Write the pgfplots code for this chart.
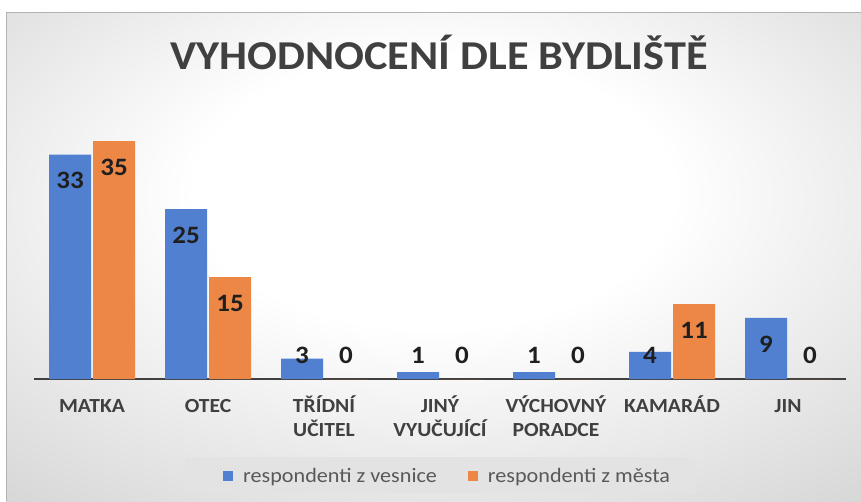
\documentclass[border=0pt]{standalone}
\usepackage{pgfplots}
\pgfplotsset{compat=1.18}
\usepackage{fontspec}
\setmainfont{Carlito}[FakeStretch=1.08]

\definecolor{barblue}{HTML}{5280D0}
\definecolor{barorange}{HTML}{EC8746}
\definecolor{txtdark}{HTML}{404040}
\definecolor{legtxt}{HTML}{595959}
\definecolor{legbg}{HTML}{E3E3E3}
\definecolor{gridc}{HTML}{A8A8A8}

\pgfdeclareradialshading{bgshade}{\pgfpoint{0bp}{8bp}}{%
  color(0bp)=(white); color(14bp)=(white); color(42bp)=(gray!36);
  color(58bp)=(gray!48); color(80bp)=(gray!48)}

\begin{document}
\begin{tikzpicture}
% background of the chart area
\fill[white] (0pt,0pt) rectangle (861pt,-501pt);
\shade[shading=bgshade] (6pt,-12pt) rectangle (861pt,-501pt);
\draw[gray!60, line width=1pt] (6pt,-501pt) -- (6pt,-12pt) -- (861pt,-12pt);
\fill[legbg] (185pt,-457pt) rectangle (695pt,-493pt);
\node[anchor=base, font=\fontsize{41}{48}\selectfont\bfseries, text=txtdark]
  at (439pt,-69pt) {VYHODNOCENÍ DLE BYDLIŠTĚ};

\begin{axis}[
  at={(34pt,-379pt)}, anchor=south west,
  x=116pt, y=6.8pt,
  xmin=-0.5, xmax=6.5, ymin=0, ymax=40,
  ybar, bar width=42pt,
  axis y line=none, axis x line*=bottom,
  x axis line style={draw=txtdark, line width=2.5pt, -},
  xtick={0,...,6}, major tick length=0pt,
  xticklabels={MATKA, OTEC, {TŘÍDNÍ\\UČITEL}, {JINÝ\\VYUČUJÍCÍ},
               {VÝCHOVNÝ\\PORADCE}, KAMARÁD, JIN},
  xticklabel style={font=\fontsize{20}{24}\selectfont\bfseries, text=txtdark,
                    align=center, anchor=north, inner sep=0pt, yshift=-16pt,
                    execute at begin node=\strut},
  ytick={5,10,...,40}, yticklabels={},
  ymajorgrids, grid style={gridc, line width=1.1pt},
  /pgf/number format/assume math mode=true,
  nodes near coords,
  visualization depends on={rawy \as \rawy},
  every node near coord/.append style={font=\fontsize{25}{28}\selectfont\bfseries,
     text=black!88, anchor=center, yshift={-min(26,6.8*\rawy-24)}},
  legend columns=2,
  legend style={at={(0.2328,-0.3566)}, anchor=west, draw=none, fill=none,
                inner sep=0pt, font=\fontsize{20.5}{24}\selectfont, text=legtxt,
                /tikz/every even column/.append style={column sep=29pt}},
  legend image code/.code={\fill[#1] (0pt,-5pt) rectangle (10pt,5pt);
                           \path (18pt,0pt);},
]
\addplot[fill=barblue, draw=none, bar shift=-22pt] coordinates {
  (0,33) (1,25) (2,3) (3,1) (4,1) (5,4) (6,9) };
\addplot[fill=barorange, draw=none, bar shift=22pt] coordinates {
  (0,35) (1,15) (2,0) (3,0) (4,0) (5,11) (6,0) };
\legend{respondenti z vesnice, respondenti z města}
\end{axis}
\pgfresetboundingbox
\useasboundingbox (0pt,0pt) rectangle (861pt,-501pt);
\end{tikzpicture}
\end{document}
